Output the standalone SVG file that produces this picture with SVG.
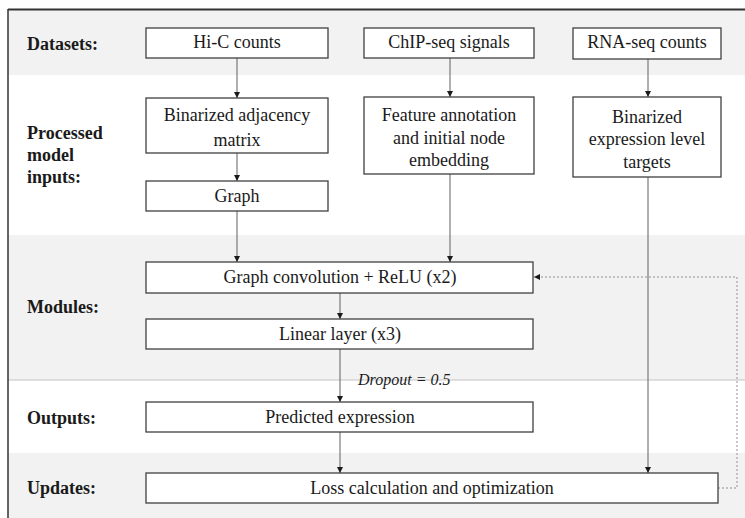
<svg xmlns="http://www.w3.org/2000/svg" width="745" height="518" viewBox="0 0 745 518">
<style>
.band{fill:#f2f2f2}
.box{fill:#ffffff;stroke:#404040;stroke-width:1.3}
.t{font-family:"Liberation Serif","Times New Roman",serif;font-size:18px;fill:#1a1a1a;text-anchor:middle}
.lab{font-family:"Liberation Serif","Times New Roman",serif;font-size:18px;font-weight:bold;fill:#1a1a1a}
.c{stroke:#606060;stroke-width:1;fill:none}
.d{stroke:#909090;stroke-width:1;fill:none;stroke-dasharray:2,2}
</style>
<defs>
<marker id="ah" viewBox="0 0 10 10" refX="10" refY="5" markerWidth="6" markerHeight="6" markerUnits="userSpaceOnUse" orient="auto">
<path d="M0,0 L10,5 L0,10 z" fill="#1a1a1a"/>
</marker>
</defs>
<rect x="0" y="0" width="745" height="518" fill="#ffffff"/>
<g id="bands">
<rect class="band" x="8" y="10" width="737" height="65"/>
<rect class="band" x="8" y="235" width="737" height="145"/>
<rect class="band" x="8" y="453" width="737" height="65"/>
<line x1="8" y1="380" x2="745" y2="380" stroke="#c4c4c4" stroke-width="1"/>
<line x1="8" y1="9.5" x2="745" y2="9.5" stroke="#333" stroke-width="2"/>
<line x1="8" y1="9" x2="8" y2="518" stroke="#333" stroke-width="1.5"/>
</g>
<g id="labels">
<text class="lab" x="27" y="50">Datasets:</text>
<text class="lab" x="27" y="139">Processed</text>
<text class="lab" x="27" y="161">model</text>
<text class="lab" x="27" y="183">inputs:</text>
<text class="lab" x="27" y="313">Modules:</text>
<text class="lab" x="27" y="424">Outputs:</text>
<text class="lab" x="27" y="494">Updates:</text>
</g>
<g id="connectors">
<line class="c" x1="237" y1="58" x2="237" y2="98" marker-end="url(#ah)"/>
<line class="c" x1="450" y1="58" x2="450" y2="97" marker-end="url(#ah)"/>
<line class="c" x1="648" y1="59" x2="648" y2="97" marker-end="url(#ah)"/>
<line class="c" x1="237" y1="153" x2="237" y2="181" marker-end="url(#ah)"/>
<line class="c" x1="237" y1="211" x2="237" y2="262" marker-end="url(#ah)"/>
<line class="c" x1="450" y1="174" x2="450" y2="262" marker-end="url(#ah)"/>
<line class="c" x1="340" y1="293" x2="340" y2="319" marker-end="url(#ah)"/>
<line class="c" x1="340" y1="349" x2="340" y2="402" marker-end="url(#ah)"/>
<line class="c" x1="340" y1="432" x2="340" y2="473" marker-end="url(#ah)"/>
<line class="c" x1="648" y1="177" x2="648" y2="473" marker-end="url(#ah)"/>
<polyline class="d" points="718,488 737,488 737,277 534,277" marker-end="url(#ah)"/>
<text x="358" y="385" font-family="Liberation Serif, Times New Roman, serif" font-size="16" font-style="italic" fill="#1a1a1a">Dropout = 0.5</text>
</g>
<g id="hic">
<rect class="box" x="146" y="28" width="182" height="30"/>
<text class="t" x="237" y="48">Hi-C counts</text>
</g>
<g id="chip">
<rect class="box" x="364" y="28" width="170" height="30"/>
<text class="t" x="449" y="48">ChIP-seq signals</text>
</g>
<g id="rna">
<rect class="box" x="573" y="28" width="148" height="31"/>
<text class="t" x="647" y="48">RNA-seq counts</text>
</g>
<g id="binadj">
<rect class="box" x="146" y="98" width="182" height="55"/>
<text class="t" x="237" y="121">Binarized adjacency</text>
<text class="t" x="237" y="146">matrix</text>
</g>
<g id="feature">
<rect class="box" x="364" y="97" width="170" height="77"/>
<text class="t" x="449" y="121">Feature annotation</text>
<text class="t" x="449" y="144">and initial node</text>
<text class="t" x="449" y="166">embedding</text>
</g>
<g id="binexpr">
<rect class="box" x="573" y="97" width="148" height="80"/>
<text class="t" x="647" y="123">Binarized</text>
<text class="t" x="647" y="145">expression level</text>
<text class="t" x="647" y="168">targets</text>
</g>
<g id="graph">
<rect class="box" x="146" y="181" width="182" height="30"/>
<text class="t" x="237" y="202">Graph</text>
</g>
<g id="gconv">
<rect class="box" x="146" y="262" width="387" height="31"/>
<text class="t" x="340" y="283">Graph convolution + ReLU (x2)</text>
</g>
<g id="linear">
<rect class="box" x="146" y="319" width="387" height="30"/>
<text class="t" x="340" y="340">Linear layer (x3)</text>
</g>
<g id="predicted">
<rect class="box" x="146" y="402" width="387" height="30"/>
<text class="t" x="340" y="423">Predicted expression</text>
</g>
<g id="loss">
<rect class="box" x="146" y="473" width="572" height="30"/>
<text class="t" x="432" y="494">Loss calculation and optimization</text>
</g>
</svg>
